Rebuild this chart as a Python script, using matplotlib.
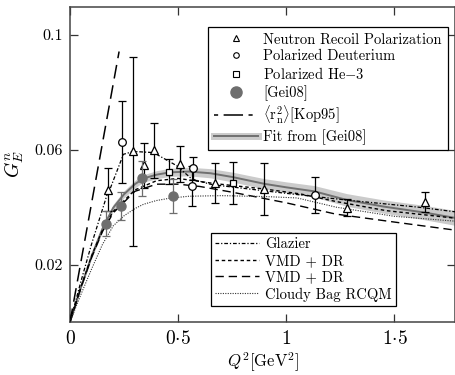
import matplotlib
matplotlib.use('Agg')
import matplotlib.pyplot as plt
from matplotlib.lines import Line2D
import numpy as np

plt.rcParams['font.family'] = ['cmr10', 'DejaVu Serif']
plt.rcParams['mathtext.fontset'] = 'cm'
plt.rcParams['axes.unicode_minus'] = False

# measured points
nrp_x = [0.177, 0.293, 0.343, 0.390, 0.509, 0.671, 0.895, 1.281, 1.639]
nrp_y = [0.0461, 0.0594, 0.0546, 0.0598, 0.0550, 0.0484, 0.0463, 0.0398, 0.0417]
nrp_err = [0.0075, 0.033, 0.0079, 0.0095, 0.0063, 0.0071, 0.0089, 0.0030, 0.0035]

pd_x = [0.242, 0.563, 0.568, 1.131]
pd_y = [0.0627, 0.0475, 0.0535, 0.0443]
pd_err = [0.0144, 0.0070, 0.0040, 0.0062]

he3_x = [0.458, 0.753]
he3_y = [0.0523, 0.0484]
he3_err = [0.0043, 0.0073]

gei_x = [0.165, 0.235, 0.335, 0.474]
gei_y = [0.0342, 0.0403, 0.0500, 0.0438]
gei_err = [0.0043, 0.0048, 0.0060, 0.0060]

# curves
fit_x = [0, 0.05, 0.1, 0.15, 0.2, 0.25, 0.3, 0.34, 0.4, 0.46, 0.55, 0.65, 0.75, 0.9, 1.0,
         1.13, 1.28, 1.45, 1.64, 1.8]
fit_y = [0, 0.0120, 0.0230, 0.0325, 0.0398, 0.0445, 0.0480, 0.0500, 0.0513, 0.0521, 0.0524,
         0.0518, 0.0505, 0.0481, 0.0469, 0.0455, 0.0425, 0.0402, 0.0381, 0.0360]
fit_w = [0, 0.0006, 0.0009, 0.0011, 0.0012, 0.0012, 0.0013, 0.0013, 0.0014, 0.0014, 0.0015,
         0.0016, 0.0017, 0.0018, 0.0019, 0.0020, 0.0022, 0.0023, 0.0025, 0.0026]

kop_x = [0, 0.227]
kop_y = [0, 0.0942]

glz_x = [0, 0.05, 0.1, 0.17, 0.185, 0.247, 0.293, 0.386, 0.494, 0.563, 0.648, 0.694, 1.0,
         1.3, 1.61, 1.8]
glz_y = [0, 0.0140, 0.0272, 0.0440, 0.0463, 0.0584, 0.0594, 0.0590, 0.0544, 0.0498, 0.0480,
         0.0475, 0.0448, 0.0423, 0.0400, 0.0382]

vmd1_x = [0, 0.05, 0.1, 0.15, 0.2, 0.3, 0.4, 0.5, 0.67, 0.9, 1.065, 1.227, 1.46, 1.8]
vmd1_y = [0, 0.0120, 0.0230, 0.0320, 0.0385, 0.0460, 0.0492, 0.0500, 0.0482, 0.0463, 0.0446,
          0.0420, 0.0388, 0.0360]

vmd2_x = [0, 0.05, 0.1, 0.15, 0.2, 0.3, 0.4, 0.5, 0.6, 0.75, 1.0, 1.227, 1.5, 1.8]
vmd2_y = [0, 0.0118, 0.0225, 0.0315, 0.0380, 0.0455, 0.0480, 0.0480, 0.0472, 0.0452, 0.0415,
          0.0376, 0.0348, 0.0318]

cbm_x = [0, 0.05, 0.1, 0.15, 0.2, 0.25, 0.3, 0.34, 0.4, 0.46, 0.55, 0.7, 0.9, 1.05, 1.23,
         1.5, 1.8]
cbm_y = [0, 0.0095, 0.0185, 0.0270, 0.0335, 0.0370, 0.0395, 0.0410, 0.0423, 0.0431, 0.0438,
         0.0440, 0.0437, 0.0432, 0.0400, 0.0368, 0.0350]

fig = plt.figure(figsize=(4.56, 3.75), dpi=100)
ax = fig.add_axes([70 / 456, 1 - 322 / 375, 385 / 456, 315 / 375])

fit_lo = np.array(fit_y) - np.array(fit_w)
fit_hi = np.array(fit_y) + np.array(fit_w)
ax.fill_between(fit_x, fit_lo, fit_hi, color='#cbcbcb', lw=0, zorder=1)
ax.plot(fit_x, fit_y, color='#707070', lw=1.4, zorder=2)

ax.plot(kop_x, kop_y, color='black', lw=1.1, dashes=(9, 4.5), zorder=3)
ax.plot(glz_x, glz_y, color='black', lw=0.9, dashes=(3, 1.5, 1, 1.5), zorder=3)
ax.plot(vmd1_x, vmd1_y, color='black', lw=1.0, dashes=(2.5, 2), zorder=3)
ax.plot(vmd2_x, vmd2_y, color='black', lw=1.0, dashes=(6, 3.5), zorder=3)
ax.plot(cbm_x, cbm_y, color='#333333', lw=0.8, dashes=(1, 1.2), zorder=3)

ebkw = dict(ecolor='black', elinewidth=0.9, capsize=2.8, capthick=0.9, ls='none', zorder=5)
ax.errorbar(nrp_x, nrp_y, yerr=nrp_err, marker='^', ms=6, mfc='white', mec='black', mew=0.9, **ebkw)
ax.errorbar(pd_x, pd_y, yerr=pd_err, marker='o', ms=5.5, mfc='white', mec='black', mew=0.9, **ebkw)
ax.errorbar(he3_x, he3_y, yerr=he3_err, marker='s', ms=5, mfc='white', mec='black', mew=0.9, **ebkw)
ax.errorbar(gei_x, gei_y, yerr=gei_err, marker='o', ms=6.5, mfc='#6e6e6e', mec='#6e6e6e',
            ecolor='#6e6e6e', elinewidth=0.9, capsize=2.8, capthick=0.9, ls='none', zorder=6)

ax.set_xlim(0, 1.78)
ax.set_ylim(0, 0.1097)
ax.set_xticks([0, 0.5, 1, 1.5])
ax.set_xticklabels(['$0$', r'$0{\cdot}5$', '$1$', r'$1{\cdot}5$'], fontsize=14)
ax.set_yticks([0.02, 0.06, 0.1])
ax.set_yticklabels(['0.02', '0.06', '0.1'], fontsize=11.5)
ax.tick_params(direction='in', length=6, width=0.9, top=True, right=True, color='#333333')
ax.tick_params(axis='x', pad=6)
ax.tick_params(axis='y', pad=5)
for s in ax.spines.values():
    s.set_linewidth(1.1)
    s.set_color('#444444')

ax.set_xlabel(r'$Q^2$[GeV$^2$]', fontsize=12, labelpad=1.5)
ax.set_ylabel(r'$G_E^n$', fontsize=14, labelpad=6)

h1 = [
    Line2D([], [], ls='none', marker='^', ms=4, mfc='white', mec='black', mew=0.8),
    Line2D([], [], ls='none', marker='o', ms=4, mfc='white', mec='black', mew=0.8),
    Line2D([], [], ls='none', marker='s', ms=4, mfc='white', mec='black', mew=0.8),
    Line2D([], [], ls='none', marker='o', ms=8, mfc='#6e6e6e', mec='#6e6e6e'),
    Line2D([], [], color='black', lw=1.1, dashes=(2.7, 3.6, 12.7, 3.6)),
    (Line2D([], [], color='#cbcbcb', lw=5), Line2D([], [], color='#707070', lw=1.4)),
]
l1 = ['Neutron Recoil Polarization', 'Polarized Deuterium', 'Polarized He$-$3', '[Gei08]',
      r'$\langle \mathrm{r}_\mathrm{n}^2\rangle$[Kop95]', 'Fit from [Gei08]']
leg1 = fig.legend(h1, l1, loc='upper left', bbox_to_anchor=(208 / 456, 1 - 27 / 375),
                  fontsize=10.5, frameon=True, fancybox=False, edgecolor='black',
                  framealpha=1, handlelength=3, handletextpad=0.4, labelspacing=0.2,
                  borderpad=0.4, borderaxespad=0)
leg1.get_frame().set_linewidth(0.9)

h2 = [
    Line2D([], [], color='black', lw=0.9, dashes=(3, 1.5, 1, 1.5)),
    Line2D([], [], color='black', lw=1.0, dashes=(2.5, 2)),
    Line2D([], [], color='black', lw=1.0, dashes=(6, 3.5)),
    Line2D([], [], color='#333333', lw=0.8, dashes=(1, 1.2)),
]
l2 = ['Glazier', 'VMD + DR', 'VMD + DR', 'Cloudy Bag RCQM']
leg2 = fig.legend(h2, l2, loc='upper left', bbox_to_anchor=(211 / 456, 1 - 233 / 375),
                  fontsize=10.5, frameon=True, fancybox=False, edgecolor='black',
                  framealpha=1, handlelength=3, handletextpad=0.4, labelspacing=0.2,
                  borderpad=0.3, borderaxespad=0)
leg2.get_frame().set_linewidth(0.9)

fig.savefig('out.png', dpi=100)
